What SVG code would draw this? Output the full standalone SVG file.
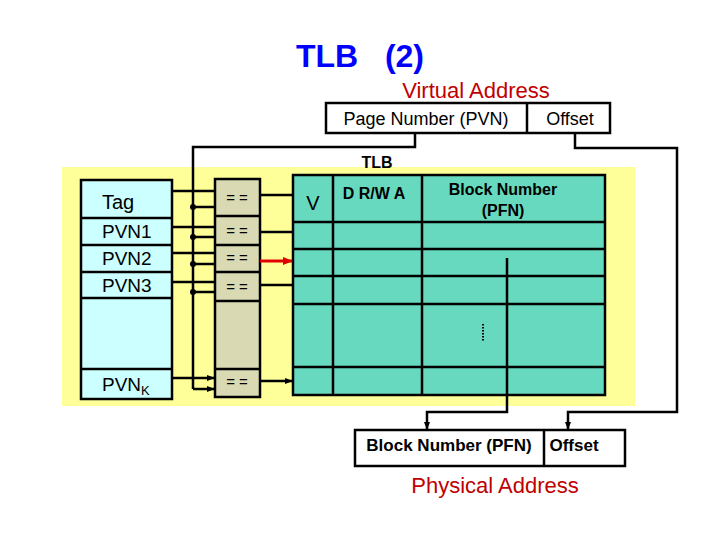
<svg xmlns="http://www.w3.org/2000/svg" width="720" height="540" viewBox="0 0 720 540">
<defs>
<marker id="ah" markerWidth="8" markerHeight="8" refX="7" refY="4" orient="auto" markerUnits="userSpaceOnUse"><path d="M0,1 L8,4 L0,7 Z" fill="#000"/></marker>
<marker id="ahr" markerWidth="10" markerHeight="10" refX="9" refY="5" orient="auto" markerUnits="userSpaceOnUse"><path d="M0,1 L10,5 L0,9 Z" fill="#e00000"/></marker>
<style>
text{font-family:"Liberation Sans",Arial,sans-serif}
.b{stroke:#000;stroke-width:2.5;fill:none}
.c{stroke:#000;stroke-width:2.5;fill:none;marker-end:url(#ah)}
.t{font-size:18px}
.bt{font-size:16px;font-weight:bold}
</style>
</defs>
<rect width="720" height="540" fill="#fff"/>
<text x="360" y="67" font-size="32" font-weight="bold" text-anchor="middle" fill="#0000ff" xml:space="preserve">TLB   (2)</text>
<text x="476" y="98" font-size="22" text-anchor="middle" fill="#c00000">Virtual Address</text>
<g id="va"><rect x="326" y="103" width="284" height="30" class="b" style="fill:#fff"/><line x1="527" y1="103" x2="527" y2="133" class="b"/>
<text x="426" y="125" class="t" text-anchor="middle">Page Number (PVN)</text><text x="570" y="125" class="t" text-anchor="middle">Offset</text></g>
<rect id="bg" x="62" y="167" width="573" height="239" fill="#ffff99"/>
<text x="377" y="168" class="bt" text-anchor="middle">TLB</text>
<g id="tags"><rect x="81" y="180" width="91" height="219" class="b" style="fill:#ccffff"/>
<path d="M81,218H172M81,245H172M81,272H172M81,298H172M81,369H172" class="b"/>
<text x="102" y="209" font-size="20">Tag</text><text x="102" y="238" font-size="19">PVN1</text><text x="102" y="265" font-size="19">PVN2</text><text x="102" y="292" font-size="19">PVN3</text>
<text x="102" y="391" font-size="19">PVN<tspan font-size="13" dy="4">K</tspan></text></g>
<g id="cmp"><rect x="215" y="179" width="45" height="218" class="b" style="fill:#d9d9b3"/>
<path d="M215,216H260M215,245H260M215,272H260M215,301H260M215,369H260" class="b"/>
<g font-size="15" text-anchor="middle"><text x="237" y="203">= =</text><text x="237" y="236">= =</text><text x="237" y="263">= =</text><text x="237" y="292">= =</text><text x="237" y="387">= =</text></g></g>
<g id="tlb"><rect x="293" y="175" width="312" height="220" class="b" style="fill:#66d9bf"/>
<path d="M333,175V395M422,175V395M293,222H605M293,249H605M293,276H605M293,304H605M293,367H605" class="b"/>
<text x="313" y="210" font-size="20" text-anchor="middle">V</text><text x="374" y="199" class="bt" text-anchor="middle">D R/W A</text>
<text x="503" y="195" class="bt" text-anchor="middle">Block Number</text><text x="503" y="216" class="bt" text-anchor="middle">(PFN)</text>
<line x1="483" y1="324" x2="483" y2="341" stroke="#000" stroke-width="2" stroke-dasharray="1.5,1.5"/></g>
<g id="pa"><rect x="355" y="430" width="270" height="36" class="b" style="fill:#fff"/><line x1="544" y1="430" x2="544" y2="466" class="b"/>
<text x="449" y="451" font-size="17" font-weight="bold" text-anchor="middle">Block Number (PFN)</text><text x="574" y="451" font-size="17" font-weight="bold" text-anchor="middle">Offset</text></g>
<text x="495" y="493" font-size="22" text-anchor="middle" fill="#c00000">Physical Address</text>
<g id="connectors">
<path d="M415,133V147H193V389" class="b"/>
<path d="M575,133V148H677V412H568V429" class="c"/>
<path d="M507,258V412H427V429" class="c"/>
<path d="M172,191H214M172,227H214M172,253H214M172,282H214M172,378H214" class="c"/>
<path d="M193,207H214M193,237H214M193,264H214M193,292H214M193,389H214" class="c"/>
<g fill="#000"><circle cx="193" cy="207" r="3"/><circle cx="193" cy="237" r="3"/><circle cx="193" cy="264" r="3"/><circle cx="193" cy="292" r="3"/></g>
<path d="M260,195H292M260,232H292M260,285H292M260,381H292" class="c"/>
<path d="M260,261H292" stroke="#e00000" stroke-width="3" fill="none" marker-end="url(#ahr)"/>
</g>
</svg>
